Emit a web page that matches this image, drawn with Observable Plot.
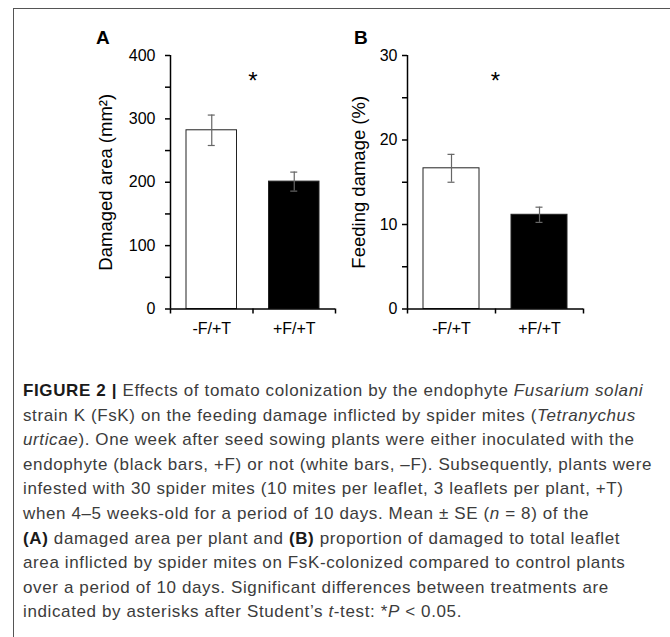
<!DOCTYPE html>
<html>
<head>
<meta charset="utf-8">
<script src="https://cdn.jsdelivr.net/npm/d3@7"></script>
<script src="https://cdn.jsdelivr.net/npm/@observablehq/plot@0.6"></script>
<style>
  html, body { margin: 0; padding: 0; background: #fff; }
  #page { position: relative; width: 670px; height: 637px; overflow: hidden; background: #fff; font-family: "Liberation Sans", Arial, sans-serif; }
  #frameTop { position: absolute; left: 13px; top: 8px; width: 657px; height: 0; border-top: 1.5px solid #555; }
  #frameLeft { position: absolute; left: 13px; top: 8px; width: 0; height: 629px; border-left: 1.5px solid #555; }
  .panel { position: absolute; top: 0; }
  .plabel { position: absolute; font-weight: bold; font-size: 19px; color: #000; }
  #caption { position: absolute; left: 23px; top: 379px; color: #3c3c3c; font-size: 17px; letter-spacing: 0.62px; line-height: 24.6px; }
  #caption div { white-space: nowrap; }
  #caption b { color: #1a1a1a; }
</style>
</head>
<body>
<div id="page">
  <div id="frameTop"></div>
  <div id="frameLeft"></div>
  <div class="plabel" style="left:96px; top:27px;">A</div>
  <div class="plabel" style="left:354px; top:27px;">B</div>
  <div id="panelA" class="panel" style="left:40px;"></div>
  <div id="panelB" class="panel" style="left:340px;"></div>
  <div id="caption">
    <div><b>FIGURE 2 |</b> Effects of tomato colonization by the endophyte <i>Fusarium solani</i></div>
    <div>strain K (FsK) on the feeding damage inflicted by spider mites (<i>Tetranychus</i></div>
    <div><i>urticae</i>). One week after seed sowing plants were either inoculated with the</div>
    <div>endophyte (black bars, +F) or not (white bars, –F). Subsequently, plants were</div>
    <div>infested with 30 spider mites (10 mites per leaflet, 3 leaflets per plant, +T)</div>
    <div>when 4–5 weeks-old for a period of 10 days. Mean ± SE (<i>n</i> = 8) of the</div>
    <div><b>(A)</b> damaged area per plant and <b>(B)</b> proportion of damaged to total leaflet</div>
    <div>area inflicted by spider mites on FsK-colonized compared to control plants</div>
    <div>over a period of 10 days. Significant differences between treatments are</div>
    <div>indicated by asterisks after Student’s <i>t</i>-test: *<i>P</i> &lt; 0.05.</div>
  </div>
</div>
<script>
// ---- data ----
const categories = ["-F/+T", "+F/+T"];
const barFills = ["white", "black"];

const areaMean = [282, 201];
const areaSE = [24, 15];
const areaSigY = 368;
const areaTicks = [0, 50, 100, 150, 200, 250, 300, 350, 400];
const areaTickLabels = [0, 100, 200, 300, 400];

const feedMean = [16.65, 11.15];
const feedSE = [1.65, 0.9];
const feedSigY = 27.6;
const feedTicks = [0, 5, 10, 15, 20, 25, 30];
const feedTickLabels = [0, 10, 20, 30];

function panel({means, ses, sigY, ticks, tickLabels, yMax, label, width, marginLeft, marginRight, labelOffset, tickPadding}) {
  const rows = categories.map((c, i) => ({i, cat: c, mean: means[i], se: ses[i], fill: barFills[i]}));
  const height = 345;
  return Plot.plot({
    width, height,
    marginLeft, marginRight,
    marginTop: 55, marginBottom: height - 308.5,
    style: {fontFamily: "'Liberation Sans', Arial, sans-serif", fontSize: "16px", color: "#000", background: "transparent"},
    x: {domain: [0, categories.length]},
    y: {domain: [0, yMax]},
    color: {type: "identity"},
    marks: [
      Plot.rectY(rows, {x1: d => d.i, x2: d => d.i + 1, y1: 0, y2: "mean", fill: "fill", stroke: "#222", strokeWidth: 1, insetLeft: 16, insetRight: 16}),
      Plot.ruleX(rows, {x: d => d.i + 0.5, y1: d => d.mean - d.se, y2: d => d.mean + d.se, stroke: "#666", strokeWidth: 1.2}),
      Plot.ruleY(rows, {x1: d => d.i + 0.5, x2: d => d.i + 0.5, y: d => d.mean + d.se, insetLeft: -3.5, insetRight: -3.5, stroke: "#666", strokeWidth: 1.2}),
      Plot.ruleY(rows, {x1: d => d.i + 0.5, x2: d => d.i + 0.5, y: d => d.mean - d.se, insetLeft: -3.5, insetRight: -3.5, stroke: "#666", strokeWidth: 1.2}),
      Plot.text([sigY], {x: 1, y: d => d, text: () => "*", fontSize: 24, dy: 6}),
      Plot.axisY({ticks, tickFormat: d => tickLabels.includes(d) ? String(d) : "", tickSize: 5, tickPadding, fontSize: 16,
        label, labelAnchor: "center", labelArrow: "none", labelOffset, stroke: "#000", strokeWidth: 1.5}),
      Plot.axisX({ticks: d3.range(categories.length + 1), tickFormat: () => "", tickSize: 5, stroke: "#000", strokeWidth: 1.5}),
      Plot.axisX({ticks: categories.map((c, i) => i + 0.5), tickFormat: (d) => categories[Math.floor(d)], tickSize: 0, tickPadding: 14, fontSize: 16, label: null}),
      Plot.ruleX([0], {stroke: "#000", strokeWidth: 1.5}),
      Plot.ruleY([0], {stroke: "#000", strokeWidth: 1.5})
    ]
  });
}

const chartA = panel({means: areaMean, ses: areaSE, sigY: areaSigY, ticks: areaTicks, tickLabels: areaTickLabels, yMax: 400,
  label: "Damaged area (mm²)", width: 300, marginLeft: 130, marginRight: 5, labelOffset: 72, tickPadding: 10});
const chartB = panel({means: feedMean, ses: feedSE, sigY: feedSigY, ticks: feedTicks, tickLabels: feedTickLabels, yMax: 30,
  label: "Feeding damage (%)", width: 260, marginLeft: 67, marginRight: 17, labelOffset: 56, tickPadding: 5});

for (const c of [chartA, chartB]) {
  c.querySelectorAll("[aria-label='y-axis label'] text, [aria-label='y-axis label']").forEach(t => t.setAttribute("font-size", "18.5"));
}
document.getElementById("panelA").appendChild(chartA);
document.getElementById("panelB").appendChild(chartB);
</script>
</body>
</html>
